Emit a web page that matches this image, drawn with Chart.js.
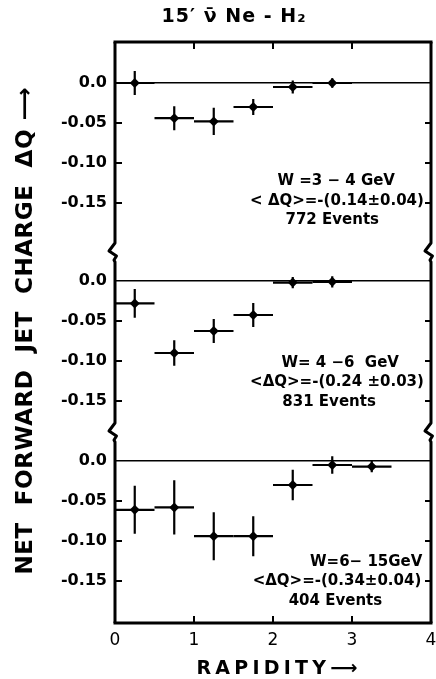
<!DOCTYPE html>
<html>
<head>
<meta charset="utf-8">
<script src="https://cdn.jsdelivr.net/npm/chart.js@4.4.1/dist/chart.umd.min.js"></script>
<style>
  html, body { margin: 0; padding: 0; background: #fff; }
  #wrap { width: 436px; height: 679px; position: relative; }
</style>
</head>
<body>
<div id="wrap"><canvas id="jetCharge"></canvas></div>
<script>
// rapidity bins: centres, each bin is +-0.25 wide
const rapidity = [0.25, 0.75, 1.25, 1.75, 2.25, 2.75, 3.25];
const binHalfWidth = 0.25;

// net forward jet charge per bin
const dqW34 = [0.0, -0.044, -0.048, -0.030, -0.005, 0.0];
const errW34 = [0.015, 0.015, 0.017, 0.010, 0.008, 0.006];
const dqW46 = [-0.028, -0.090, -0.0625, -0.0425, -0.002, -0.001];
const errW46 = [0.018, 0.016, 0.015, 0.015, 0.007, 0.007];
const dqW615 = [-0.061, -0.058, -0.094, -0.094, -0.030, -0.005, -0.007];
const errW615 = [0.030, 0.034, 0.030, 0.025, 0.019, 0.011, 0.007];

// axes
const xTicks = [0, 1, 2, 3, 4];
const yTicks = [0, -0.05, -0.10, -0.15];
const rangeW34 = [-0.2125, 0.05125];
const rangeW46 = [-0.19, 0.035];
const rangeW615 = [-0.2025, 0.035];

// text
const titleText = "15′ ν\u0304 Ne - H₂";
const yTitle = "NET  FORWARD  JET  CHARGE  ΔQ ⟶";
const xTitle = "RAPIDITY⟶";
const notesW34 = ["W =3 − 4 GeV", "< ΔQ>=-(0.14±0.04)", "772 Events"];
const notesW46 = ["W= 4 −6  GeV", "<ΔQ>=-(0.24 ±0.03)", "831 Events"];
const notesW615 = ["W=6− 15GeV", "<ΔQ>=-(0.34±0.04)", "404 Events"];

const BLACK = "#000";

const toPoints = (vals) => vals.map((v, i) => ({ x: rapidity[i], y: v }));

const panelScale = (range, order) => ({
  type: "linear",
  position: "left",
  stack: "panels",
  stackWeight: range[1] - range[0],
  weight: order,
  min: range[0],
  max: range[1],
  afterBuildTicks: (s) => { s.ticks = yTicks.map((v) => ({ value: v })); },
  afterFit: (s) => { s.width = 62; },
  border: { display: false },
  grid: {
    drawTicks: false,
    lineWidth: 1.5,
    color: (c) => (c.tick && c.tick.value === 0 ? BLACK : "rgba(0,0,0,0)"),
  },
  ticks: {
    autoSkip: false,
    padding: 8,
    color: BLACK,
    font: { family: "DejaVu Sans", size: 16, weight: "bold" },
    callback: (v) => (v === 0 ? "0.0" : v.toFixed(2)),
  },
});

const series = (id, vals, errs) => ({
  data: toPoints(vals),
  yErr: errs,
  yAxisID: id,
  xAxisID: "x",
  pointStyle: "rectRot",
  pointRadius: 5,
  backgroundColor: BLACK,
  borderColor: BLACK,
  borderWidth: 0,
});

// text with extra letter spacing so it covers the given length
function spreadText(ctx, text, cx, y, len) {
  ctx.letterSpacing = "0px";
  const w = ctx.measureText(text).width;
  const extra = Math.max(0, (len - w) / (text.length - 1));
  ctx.letterSpacing = extra + "px";
  ctx.textAlign = "left";
  ctx.fillText(text, cx - len / 2, y);
  ctx.letterSpacing = "0px";
}

const errorBars = {
  id: "errorBars",
  beforeDatasetsDraw(chart) {
    const { ctx } = chart;
    const xs = chart.scales.x;
    ctx.save();
    ctx.strokeStyle = BLACK;
    ctx.lineWidth = 2.2;
    chart.data.datasets.forEach((ds) => {
      const ys = chart.scales[ds.yAxisID];
      ds.data.forEach((p, i) => {
        const px = xs.getPixelForValue(p.x);
        const py = ys.getPixelForValue(p.y);
        ctx.beginPath();
        ctx.moveTo(xs.getPixelForValue(p.x - binHalfWidth), py);
        ctx.lineTo(xs.getPixelForValue(p.x + binHalfWidth), py);
        ctx.moveTo(px, ys.getPixelForValue(p.y + ds.yErr[i]));
        ctx.lineTo(px, ys.getPixelForValue(p.y - ds.yErr[i]));
        ctx.stroke();
      });
    });
    ctx.restore();
  },
};

const frame = {
  id: "frame",
  afterDraw(chart) {
    const { ctx, chartArea: a, scales } = chart;
    const breaks = [scales.yMid.top, scales.yLow.top];
    ctx.save();
    ctx.strokeStyle = BLACK;
    ctx.fillStyle = BLACK;
    ctx.lineWidth = 3;
    ctx.lineJoin = "round";

    ctx.beginPath();
    ctx.moveTo(a.left - 1.5, a.top);
    ctx.lineTo(a.right + 1.5, a.top);
    ctx.moveTo(a.left - 1.5, a.bottom);
    ctx.lineTo(a.right + 1.5, a.bottom);
    ctx.stroke();

    // side lines with the axis-break squiggles
    [a.left, a.right].forEach((x) => {
      ctx.beginPath();
      ctx.moveTo(x, a.top);
      breaks.forEach((b) => {
        ctx.lineTo(x, b - 10);
        ctx.lineTo(x - 6, b - 2);
        ctx.lineTo(x + 1.5, b + 3);
        ctx.lineTo(x - 1, b + 7);
        ctx.lineTo(x, b + 9);
      });
      ctx.lineTo(x, a.bottom);
      ctx.stroke();
    });

    // inward ticks
    ctx.lineWidth = 2;
    ctx.beginPath();
    xTicks.slice(1, -1).forEach((v) => {
      const px = scales.x.getPixelForValue(v);
      ctx.moveTo(px, a.top);
      ctx.lineTo(px, a.top + 7);
      ctx.moveTo(px, a.bottom);
      ctx.lineTo(px, a.bottom - 7);
    });
    ["yTop", "yMid", "yLow"].forEach((id) => {
      yTicks.filter((v) => v !== 0).forEach((v) => {
        const py = scales[id].getPixelForValue(v);
        ctx.moveTo(a.left, py);
        ctx.lineTo(a.left + 7, py);
        ctx.moveTo(a.right, py);
        ctx.lineTo(a.right - 6, py);
      });
    });
    ctx.stroke();

    // title
    ctx.font = "bold 19px 'DejaVu Sans'";
    ctx.textBaseline = "alphabetic";
    spreadText(ctx, titleText, 234, 22, 145);

    // x title
    ctx.font = "bold 19px 'DejaVu Sans'";
    spreadText(ctx, xTitle, 277, 674, 161);

    // y title
    ctx.save();
    ctx.translate(32, 331);
    ctx.rotate(-Math.PI / 2);
    ctx.font = "bold 23px 'DejaVu Sans'";
    spreadText(ctx, yTitle, 0, 0, 487);
    ctx.restore();

    // panel notes
    ctx.font = "bold 15px 'DejaVu Sans'";
    ctx.textAlign = "center";
    ctx.textBaseline = "middle";
    const notes = [
      { id: "yTop", y: -0.123, lines: notesW34, xs: [2.80, 2.81, 2.75] },
      { id: "yMid", y: -0.1025, lines: notesW46, xs: [2.85, 2.81, 2.71] },
      { id: "yLow", y: -0.126, lines: notesW615, xs: [3.18, 2.81, 2.79] },
    ];
    notes.forEach((n) => {
      const y0 = scales[n.id].getPixelForValue(n.y);
      n.lines.forEach((t, i) => {
        ctx.fillText(t, scales.x.getPixelForValue(n.xs[i]), y0 + i * 19.5);
      });
    });
    ctx.restore();
  },
};

new Chart(document.getElementById("jetCharge"), {
  type: "scatter",
  data: {
    datasets: [
      series("yTop", dqW34, errW34),
      series("yMid", dqW46, errW46),
      series("yLow", dqW615, errW615),
    ],
  },
  options: {
    responsive: true,
    maintainAspectRatio: false,
    animation: false,
    layout: { padding: { left: 53, right: 4, top: 42, bottom: 0 } },
    plugins: {
      legend: { display: false },
      tooltip: { enabled: false },
    },
    scales: {
      x: {
        type: "linear",
        min: 0,
        max: 4,
        afterBuildTicks: (s) => { s.ticks = xTicks.map((v) => ({ value: v })); },
        afterFit: (s) => { s.height = 56; s.paddingLeft = 0; s.paddingRight = 0; },
        border: { display: false },
        grid: { display: false, drawTicks: false },
        ticks: {
          padding: 7,
          color: BLACK,
          font: { family: "DejaVu Sans", size: 17 },
        },
      },
      yTop: panelScale(rangeW34, 3),
      yMid: panelScale(rangeW46, 2),
      yLow: panelScale(rangeW615, 1),
    },
  },
  plugins: [errorBars, frame],
});
</script>
</body>
</html>
